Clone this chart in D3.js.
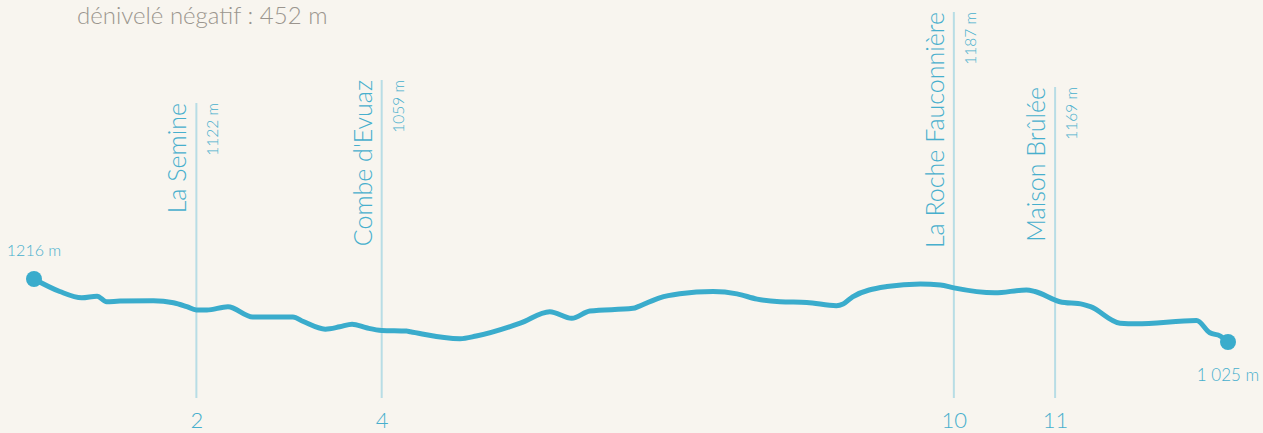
<!DOCTYPE html>
<html>
<head>
<meta charset="utf-8">
<script src="https://cdn.jsdelivr.net/npm/d3@7"></script>
<style>
  html, body { margin: 0; padding: 0; background: #f8f5ef; }
  svg { display: block; font-family: Lato, "Open Sans", sans-serif; font-weight: 300; }
</style>
</head>
<body>
<div id="chart"></div>
<script>
// profile : distance (km) / altitude (m)
const distances = [0, 0.27, 0.50, 0.66, 0.76, 0.90, 1.25, 1.46, 1.60, 1.70, 1.81, 2.03, 2.29, 2.71, 2.82, 3.05, 3.20, 3.33, 3.48, 3.64, 3.90, 3.94, 4.46, 4.63, 5.09, 5.40, 5.63, 5.82, 6.27, 6.34, 6.55, 6.76, 7.11, 7.36, 7.57, 7.81, 8.09, 8.40, 8.47, 8.57, 8.93, 9.28, 9.49, 9.63, 10.06, 10.39, 10.48, 10.74, 10.98, 11.06, 11.37, 11.54, 12.17, 12.31, 12.42, 12.5]
const altitudes = [1216, 1178, 1159, 1164, 1147, 1149, 1150, 1144, 1132, 1122, 1122, 1132, 1101, 1101, 1087, 1064, 1071, 1079, 1068, 1060, 1058, 1056, 1035, 1043, 1082, 1117, 1097, 1119, 1127, 1134, 1159, 1171, 1178, 1171, 1155, 1147, 1145, 1135, 1140, 1162, 1193, 1201, 1198, 1189, 1174, 1183, 1178, 1147, 1139, 1132, 1082, 1080, 1090, 1053, 1043, 1025]

// points de passage
const wpNames = ['La Semine', "Combe d'Evuaz", 'La Roche Fauconnière', 'Maison Brûlée']
const wpKm = [1.70, 3.64, 9.63, 10.69]
const wpAlt = [1122, 1059, 1187, 1169]
const wpTicks = ['2', '4', '10', '11']

const title = 'dénivelé négatif : 452 m'
const startLabel = '1216 m'
const endLabel = '1 025 m'

const width = 1263, height = 433
const labelTop = [103, 80, 12, 87]   // haut des repères verticaux
const axisY = 398

const svg = d3.select('#chart').append('svg')
  .attr('width', width)
  .attr('height', height)
  .style('background-color', '#f8f5ef')

const x = d3.scaleLinear().domain([0, 12.5]).range([34, 1228])
const y = d3.scaleLinear().domain([1025, 1216]).range([342, 279])

const data = distances.map((d, i) => ({ km: d, alt: altitudes[i] }))
const waypoints = wpNames.map((n, i) => ({ name: n, km: wpKm[i], alt: wpAlt[i], tick: wpTicks[i], top: labelTop[i] }))

svg.append('text')
  .attr('x', 77)
  .attr('y', 24)
  .attr('fill', '#9b958e')
  .attr('font-size', 24)
  .text(title)

// repères verticaux
const wp = svg.append('g').selectAll('g')
  .data(waypoints)
  .join('g')
    .attr('transform', d => `translate(${x(d.km)},0)`)

wp.append('line')
  .attr('y1', d => d.top)
  .attr('y2', axisY)
  .attr('stroke', '#b8dde5')
  .attr('stroke-width', 2)

wp.append('text')
  .attr('transform', d => `translate(-10,${d.top}) rotate(-90)`)
  .attr('text-anchor', 'end')
  .attr('fill', '#47afcd')
  .attr('font-size', 25)
  .text(d => d.name)

wp.append('text')
  .attr('transform', d => `translate(22,${d.top}) rotate(-90)`)
  .attr('text-anchor', 'end')
  .attr('fill', '#47afcd')
  .attr('font-size', 15.5)
  .text(d => `${d.alt} m`)

// axe des distances
const xAxis = g => g
  .attr('transform', `translate(0,${axisY})`)
  .call(d3.axisBottom(x).tickValues(wpKm).tickFormat((d, i) => wpTicks[i]).tickSize(0).tickPadding(14))
  .call(g => g.select('.domain').remove())
  .call(g => g.selectAll('text')
    .attr('fill', '#47afcd')
    .attr('font-size', 22)
    .attr('font-family', 'Lato, sans-serif')
    .attr('font-weight', 300))

svg.append('g').call(xAxis)

const line = d3.line()
  .x(d => x(d.km))
  .y(d => y(d.alt))
  .curve(d3.curveMonotoneX)

svg.append('path')
  .datum(data)
  .attr('fill', 'none')
  .attr('stroke', '#3aaccc')
  .attr('stroke-width', 5)
  .attr('stroke-linejoin', 'round')
  .attr('stroke-linecap', 'round')
  .attr('d', line)

const first = data[0], last = data[data.length - 1]
svg.selectAll('circle')
  .data([first, last])
  .join('circle')
    .attr('cx', d => x(d.km))
    .attr('cy', d => y(d.alt))
    .attr('r', 8)
    .attr('fill', '#3aaccc')

svg.append('text')
  .attr('x', x(first.km))
  .attr('y', y(first.alt) - 23)
  .attr('text-anchor', 'middle')
  .attr('fill', '#47afcd')
  .attr('font-size', 16)
  .text(startLabel)

svg.append('text')
  .attr('x', x(last.km))
  .attr('y', y(last.alt) + 39)
  .attr('text-anchor', 'middle')
  .attr('fill', '#47afcd')
  .attr('font-size', 17)
  .text(endLabel)
</script>
</body>
</html>
